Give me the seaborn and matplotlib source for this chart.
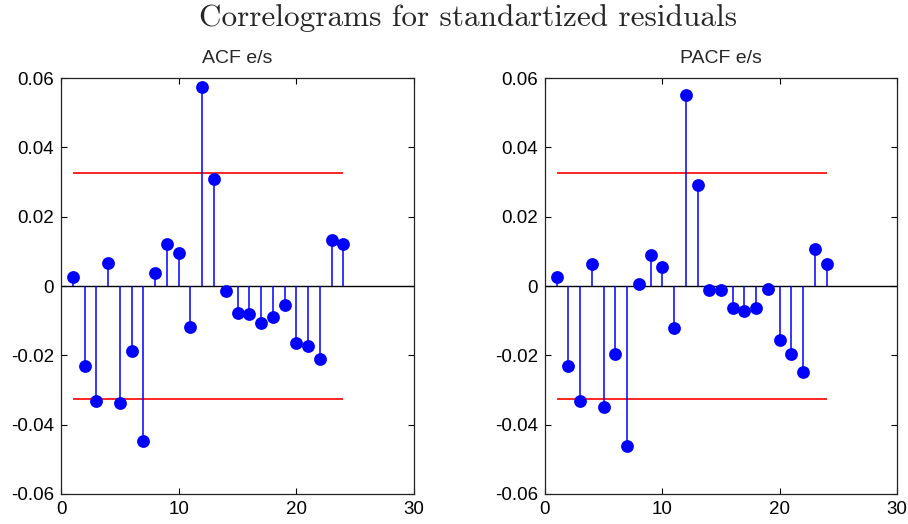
import matplotlib
matplotlib.use("Agg")
import matplotlib.pyplot as plt
import seaborn as sns
import pandas as pd

lags = list(range(1, 25))
acf_vals = [0.0027, -0.0232, -0.0331, 0.0067, -0.0338, -0.0187, -0.0448, 0.0037,
            0.0120, 0.0094, -0.0117, 0.0575, 0.0309, -0.0015, -0.0077, -0.0081,
            -0.0108, -0.0090, -0.0054, -0.0164, -0.0174, -0.0210, 0.0132, 0.0120]
pacf_vals = [0.0027, -0.0231, -0.0333, 0.0063, -0.0350, -0.0195, -0.0461, 0.0006,
             0.0089, 0.0054, -0.0120, 0.0552, 0.0291, -0.0012, -0.0012, -0.0063,
             -0.0073, -0.0063, -0.0010, -0.0156, -0.0195, -0.0248, 0.0107, 0.0063]
conf_bound = 0.0325
bound_range = [1, 24]
titles = ["ACF e/s", "PACF e/s"]
suptitle = "Correlograms for standartized residuals"
xticks = [0, 10, 20, 30]
yticks = [-0.06, -0.04, -0.02, 0, 0.02, 0.04, 0.06]
ytick_labels = ["-0.06", "-0.04", "-0.02", "0", "0.02", "0.04", "0.06"]

sns.set_style("white")
plt.rcParams["font.family"] = ["Liberation Sans", "DejaVu Sans"]
plt.rcParams["axes.unicode_minus"] = False

fig = plt.figure(figsize=(9.08, 5.24), dpi=100)
ax1 = fig.add_axes([0.0672, 0.0573, 0.3888, 0.7937])
ax2 = fig.add_axes([0.6002, 0.0573, 0.3877, 0.7937])

for ax, vals, ttl in [(ax1, acf_vals, titles[0]), (ax2, pacf_vals, titles[1])]:
    df = pd.DataFrame({"lag": lags, "value": vals})
    ax.axhline(0, color="black", lw=1.0, zorder=1)
    ax.vlines(df["lag"], 0, df["value"], color="#0000ff", lw=1.1, zorder=2)
    sns.scatterplot(data=df, x="lag", y="value", ax=ax, color="#0000ff",
                    s=85, edgecolor="#0000ff", linewidth=0, zorder=3, legend=False)
    ax.hlines([conf_bound, -conf_bound], bound_range[0], bound_range[1],
              color="#ff0000", lw=1.2, zorder=1.5)
    ax.set_xlim(0, 30)
    ax.set_ylim(-0.06, 0.06)
    ax.set_xticks(xticks)
    ax.set_xticklabels([str(t) for t in xticks])
    ax.set_yticks(yticks)
    ax.set_yticklabels(ytick_labels)
    ax.set_xlabel("")
    ax.set_ylabel("")
    ax.tick_params(direction="in", length=4, width=0.8, labelsize=13.5,
                   top=True, right=True, bottom=True, left=True, colors="black",
                   pad=5)
    for sp in ax.spines.values():
        sp.set_visible(True)
        sp.set_color("#222222")
        sp.set_linewidth(0.9)
    ax.set_title(ttl, fontsize=14, pad=11)

fig.text(0.515, 0.965, suptitle, ha="center", va="center",
         family=["cmr10", "DejaVu Serif"], fontsize=22.5)

fig.savefig("out.png", dpi=100)
